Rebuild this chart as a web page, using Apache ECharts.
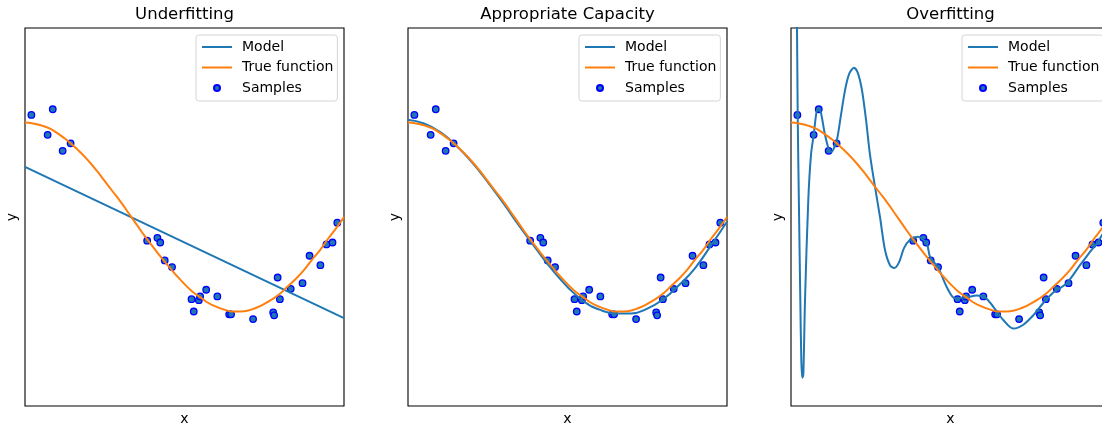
<!DOCTYPE html>
<html>
<head>
<meta charset="utf-8">
<script src="https://cdn.jsdelivr.net/npm/echarts@6/dist/echarts.min.js"></script>
<style>
html, body { margin: 0; padding: 0; background: #fff; }
#main { width: 1102px; height: 425px; }
</style>
</head>
<body>
<div id="main"></div>
<script>
var panelTitles = ['Underfitting', 'Appropriate Capacity', 'Overfitting'];

// noisy samples (same in every panel)
var sampleX = [0.020, 0.071, 0.087, 0.118, 0.143, 0.383, 0.415, 0.424, 0.438, 0.461,
               0.522, 0.529, 0.545, 0.549, 0.568, 0.603, 0.640, 0.646, 0.715, 0.778,
               0.781, 0.792, 0.799, 0.833, 0.870, 0.892, 0.926, 0.945, 0.964, 0.979];
var sampleY = [1.08, 0.87, 1.14, 0.70, 0.78, -0.25, -0.22, -0.27, -0.46, -0.53,
               -0.87, -1.00, -0.88, -0.84, -0.77, -0.84, -1.03, -1.03, -1.08, -1.01,
               -1.04, -0.64, -0.87, -0.76, -0.70, -0.41, -0.51, -0.29, -0.27, -0.06];

// true function
var trueX = [0, 0.025, 0.05, 0.075, 0.1, 0.125, 0.15, 0.175, 0.2, 0.225, 0.25, 0.275, 0.3, 0.325,
             0.35, 0.375, 0.4, 0.425, 0.45, 0.475, 0.5, 0.525, 0.55, 0.575, 0.6, 0.625, 0.65,
             0.675, 0.7, 0.725, 0.75, 0.775, 0.8, 0.825, 0.85, 0.875, 0.9, 0.925, 0.95, 0.975, 1];
var trueY = [1.00, 0.99, 0.97, 0.94, 0.89, 0.83, 0.76, 0.68, 0.59, 0.49, 0.38, 0.27, 0.16, 0.04,
             -0.08, -0.20, -0.31, -0.42, -0.52, -0.62, -0.71, -0.79, -0.85, -0.91, -0.95, -0.98, -1.00,
             -1.00, -0.99, -0.96, -0.92, -0.87, -0.81, -0.73, -0.65, -0.56, -0.45, -0.35, -0.23, -0.12, 0.00];

// degree 1 model
var linX = [0, 1];
var linY = [0.53, -1.07];

// degree 4 model
var quartX = [0, 0.05, 0.1, 0.15, 0.2, 0.25, 0.3, 0.35, 0.4, 0.45, 0.5,
              0.55, 0.6, 0.65, 0.7, 0.75, 0.8, 0.85, 0.9, 0.95, 1];
var quartY = [1.03, 0.99, 0.90, 0.76, 0.58, 0.37, 0.14, -0.10, -0.33, -0.55, -0.74,
              -0.89, -0.98, -1.02, -1.02, -0.97, -0.87, -0.72, -0.54, -0.30, -0.05];

// degree 15 model
var deg15X = [0, 0.0125, 0.0188, 0.0210, 0.0251, 0.0292, 0.0323, 0.0354, 0.0386, 0.0439,
              0.0542, 0.0627, 0.0712, 0.0799, 0.0862, 0.0940, 0.1066, 0.1191, 0.1270, 0.1348,
              0.1442, 0.1567, 0.1693, 0.1818, 0.1975, 0.2100, 0.2226, 0.2351, 0.2476, 0.2633,
              0.2790, 0.2947, 0.3103, 0.3238, 0.3386, 0.3542, 0.3730, 0.3981, 0.4254, 0.4357,
              0.4618, 0.4881, 0.5141, 0.5508, 0.5821, 0.6082, 0.6342, 0.6655, 0.6969, 0.7282,
              0.7596, 0.7909, 0.8223, 0.8643, 0.9060, 0.9373, 0.9583, 1];
var deg15Y = [8.0, 3.5, 2.0, 1.08, 0.07, -0.88, -1.51, -1.70, -1.67, -0.88,
              0.18, 0.66, 0.87, 1.11, 1.16, 1.10, 0.87, 0.71, 0.69, 0.73,
              0.82, 1.08, 1.34, 1.51, 1.58, 1.52, 1.34, 1.03, 0.66, 0.32,
              0.00, -0.35, -0.51, -0.54, -0.48, -0.33, -0.24, -0.21, -0.28, -0.42,
              -0.54, -0.74, -0.86, -0.85, -0.83, -0.85, -0.95, -1.09, -1.18, -1.14,
              -1.04, -0.91, -0.80, -0.70, -0.51, -0.37, -0.28, -0.05];

function pairs(xs, ys) {
    var out = [];
    for (var i = 0; i < xs.length; i++) out.push([xs[i], ys[i]]);
    return out;
}

var modelData = [pairs(linX, linY), pairs(quartX, quartY), pairs(deg15X, deg15Y)];
var modelSmooth = [false, 0.5, 0.3];
var trueData = pairs(trueX, trueY);
var samples = pairs(sampleX, sampleY);

var font = 'DejaVu Sans';
var panelLeft = [25, 408, 791];
var panelWidth = 319;

var option = {
    animation: false,
    title: [], grid: [], xAxis: [], yAxis: [], legend: [], series: []
};

for (var i = 0; i < 3; i++) {
    var left = panelLeft[i];
    option.title.push({
        text: panelTitles[i],
        left: left + panelWidth / 2,
        textAlign: 'center',
        top: 6,
        padding: 0,
        textStyle: { fontFamily: font, fontSize: 16.5, fontWeight: 'normal', color: '#000' }
    });
    option.grid.push({
        left: left, top: 28, width: panelWidth, height: 378,
        outerBoundsMode: 'none', containLabel: false,
        show: true, borderColor: '#000', borderWidth: 1.1, backgroundColor: 'transparent'
    });
    option.xAxis.push({
        gridIndex: i, type: 'value', min: 0, max: 1,
        axisLine: { show: false }, axisTick: { show: false },
        axisLabel: { show: false }, splitLine: { show: false },
        name: 'x', nameLocation: 'middle', nameGap: 6,
        nameTextStyle: { fontFamily: font, fontSize: 14, color: '#000' }
    });
    option.yAxis.push({
        gridIndex: i, type: 'value', min: -2, max: 2,
        axisLine: { show: false }, axisTick: { show: false },
        axisLabel: { show: false }, splitLine: { show: false },
        name: 'y', nameLocation: 'middle', nameGap: 6,
        nameTextStyle: { fontFamily: font, fontSize: 14, color: '#000' }
    });
    option.legend.push({
        orient: 'vertical',
        left: left + 171, top: 35,
        selectedMode: false,
        itemWidth: 30, itemHeight: 6, itemGap: 4.5,
        padding: [4, 4, 5, 5],
        borderColor: '#d4d4d4', borderWidth: 1, borderRadius: 3,
        backgroundColor: 'rgba(255,255,255,0.8)',
        textStyle: { fontFamily: font, fontSize: 14, color: '#000', lineHeight: 16, padding: [0, 0, 0, 5] },
        data: [
            { name: 'Model', itemStyle: { opacity: 0 } },
            { name: 'True function', itemStyle: { opacity: 0 } },
            { name: 'Samples' }
        ]
    });
    option.series.push({
        type: 'line', name: 'Model', xAxisIndex: i, yAxisIndex: i,
        data: modelData[i], symbol: 'none', showSymbol: false,
        smooth: modelSmooth[i],
        lineStyle: { color: '#1f77b4', width: 2 }, itemStyle: { color: '#1f77b4' }
    });
    option.series.push({
        type: 'line', name: 'True function', xAxisIndex: i, yAxisIndex: i,
        data: trueData, symbol: 'none', showSymbol: false, smooth: 0.5,
        lineStyle: { color: '#ff7f0e', width: 2 }, itemStyle: { color: '#ff7f0e' }
    });
    option.series.push({
        type: 'scatter', name: 'Samples', xAxisIndex: i, yAxisIndex: i,
        data: samples, symbolSize: 6.5,
        itemStyle: { color: '#1f77b4', borderColor: '#0000ff', borderWidth: 1.3, opacity: 1 }
    });
}

var chart = echarts.init(document.getElementById('main'));
chart.setOption(option);
</script>
</body>
</html>
